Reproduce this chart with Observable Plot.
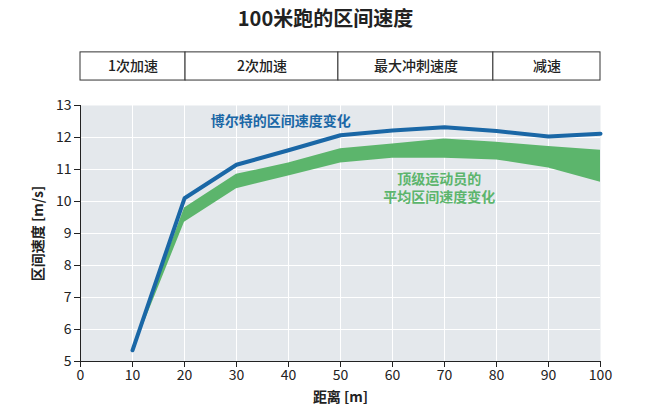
<!DOCTYPE html>
<html><head><meta charset="utf-8">
<script src="https://cdn.jsdelivr.net/npm/d3@7"></script>
<script src="https://cdn.jsdelivr.net/npm/@observablehq/plot@0.6"></script>
<style>
body{margin:0;background:#fff;font-family:"Noto Sans CJK SC","Noto Sans",sans-serif;}
#title{height:40px;line-height:36px;text-align:center;font-size:20px;font-weight:bold;color:#222;}
g[aria-label="x-axis label"] text, g[aria-label="y-axis label"] text{font-weight:bold;font-size:14px;}
</style></head><body>
<div id="title">100米跑的区间速度</div>
<div id="chart"></div>
<script>
const distances=[10,20,30,40,50,60,70,80,90,100];
const boltSpeed=[5.35,10.1,11.15,11.6,12.07,12.22,12.32,12.2,12.03,12.12];
const eliteHigh=[5.4,9.8,10.85,11.2,11.65,11.8,11.95,11.85,11.72,11.6];
const eliteLow=[5.3,9.35,10.4,10.8,11.2,11.35,11.35,11.3,11.05,10.6];
const phaseNames=["1次加速","2次加速","最大冲刺速度","减速"];
const phaseStart=[0,20.2,49.6,79.4];
const phaseEnd=[20.2,49.6,79.4,100];
const bolt=distances.map((d,i)=>({d,v:boltSpeed[i]}));
const elite=distances.map((d,i)=>({d,hi:eliteHigh[i],lo:eliteLow[i]}));
const phases=phaseNames.map((n,i)=>({n,x1:phaseStart[i],x2:phaseEnd[i]}));
const blue="#1a67a6", green="#5cb56c";
const font='"Noto Sans CJK SC",sans-serif';
const p=Plot.plot({
  width:651,height:372,marginTop:65,marginBottom:51,marginLeft:80,marginRight:51,
  style:{fontFamily:font,fontSize:"14px",color:"#222",overflow:"visible"},
  x:{domain:[0,100]},
  y:{domain:[5,13]},
  marks:[
    Plot.frame({fill:"#e4e8ec",stroke:null}),
    Plot.gridX(d3.range(10,100,10),{stroke:"#fff",strokeOpacity:1,strokeWidth:1}),
    Plot.gridY(d3.range(6,13,1),{stroke:"#fff",strokeOpacity:1,strokeWidth:1}),
    Plot.axisX({ticks:d3.range(0,101,10),fontSize:14,label:"距离 [m]",labelAnchor:"center",labelArrow:"none",labelOffset:40}),
    Plot.axisY({ticks:d3.range(5,14,1),fontSize:14,label:"区间速度 [m/s]",labelAnchor:"center",labelArrow:"none",labelOffset:47}),
    Plot.ruleY([5],{stroke:"#222"}),
    Plot.ruleX([0],{stroke:"#222"}),
    Plot.areaY(elite,{x:"d",y1:"lo",y2:"hi",fill:green}),
    Plot.line(bolt,{x:"d",y:"v",stroke:blue,strokeWidth:4}),
    Plot.rect(phases,{x1:"x1",x2:"x2",y1:13.78,y2:14.66,fill:"#fff",stroke:"#333",strokeWidth:1}),
    Plot.text(phases,{x:d=>(d.x1+d.x2)/2,y:14.22,text:"n",fontSize:14,fill:"#222",fontWeight:500}),
    Plot.text(["博尔特的区间速度变化"],{x:38.5,y:12.5,text:d=>d,fill:blue,fontSize:14,fontWeight:"bold"}),
    Plot.text(["顶级运动员的\n平均区间速度变化"],{x:69,y:10.45,text:d=>d,fill:green,fontSize:14,fontWeight:"bold",lineHeight:1.3})
  ]
});
document.getElementById("chart").appendChild(p);
</script></body></html>
